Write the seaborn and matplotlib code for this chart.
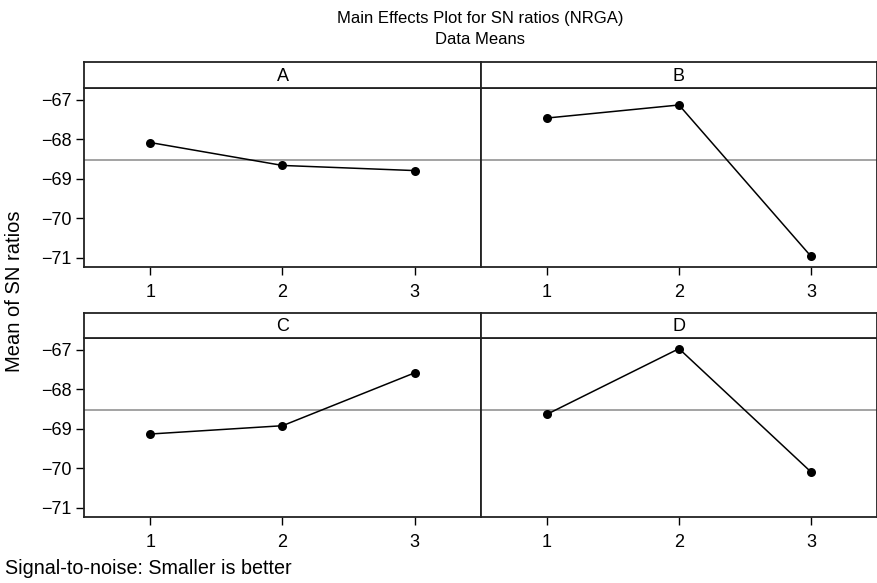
import matplotlib
matplotlib.use("Agg")
import matplotlib.pyplot as plt
import seaborn as sns
import pandas as pd
import numpy as np

sns.set_theme(style="white")
plt.rcParams['font.family'] = ['Liberation Sans', 'DejaVu Sans']
plt.rcParams['text.color'] = 'black'
plt.rcParams['xtick.color'] = 'black'
plt.rcParams['ytick.color'] = 'black'

factors = ["A", "B", "C", "D"]
levels = [1, 2, 3]
sn_A = [-68.08, -68.66, -68.79]
sn_B = [-67.46, -67.13, -70.96]
sn_C = [-69.13, -68.92, -67.58]
sn_D = [-68.63, -66.97, -70.09]
yticks = [-67, -68, -69, -70, -71]

rows = []
for f, vals in zip(factors, [sn_A, sn_B, sn_C, sn_D]):
    for lv, v in zip(levels, vals):
        rows.append({"factor": f, "level": lv, "sn": v})
df = pd.DataFrame(rows)
grand_mean = df["sn"].mean()

W, H = 878, 583
fig = plt.figure(figsize=(W / 100, H / 100), dpi=100)

def fx(px):
    return px / W

def fy(py):
    return 1 - py / H

# panel geometry in pixels: (x0, x1, strip_top, strip_bottom, plot_bottom)
geo = {
    "A": (84, 481, 62, 88, 267),
    "B": (481, 877, 62, 88, 267),
    "C": (84, 481, 313, 338, 517),
    "D": (481, 877, 313, 338, 517),
}
ylim = (-71.23, -66.70)

for f in factors:
    x0, x1, st, sb, pb = geo[f]
    ax = fig.add_axes([fx(x0), fy(pb), fx(x1 - x0), (pb - sb) / H])
    sub = df[df["factor"] == f]
    ax.axhline(grand_mean, color="#8a8a8a", lw=1.1, zorder=1)
    sns.lineplot(data=sub, x="level", y="sn", ax=ax, color="black",
                 marker="o", markersize=6.5, markeredgewidth=0, lw=1.1,
                 zorder=3)
    ax.set_xlim(0.5, 3.5)
    ax.set_ylim(*ylim)
    ax.set_xticks(levels)
    ax.set_xticklabels([str(l) for l in levels])
    ax.set_xlabel("")
    ax.set_ylabel("")
    if f in ("A", "C"):
        ax.set_yticks(yticks)
        ax.set_yticklabels([f"\u2212{abs(t)}" for t in yticks])
    else:
        ax.set_yticks([])
    ax.tick_params(axis="y", which="both", direction="out", length=5.5,
                   width=1, color="black", labelsize=13, pad=3.5,
                   left=(f in ("A", "C")))
    ax.tick_params(axis="x", which="both", direction="out", length=5.5,
                   width=1, color="black", labelsize=13, pad=6.5,
                   bottom=True)
    for s in ax.spines.values():
        s.set_color("#222222")
        s.set_linewidth(1.3)
    # strip
    sax = fig.add_axes([fx(x0), fy(sb), fx(x1 - x0), (sb - st) / H])
    sax.set_xticks([])
    sax.set_yticks([])
    for s in sax.spines.values():
        s.set_color("#222222")
        s.set_linewidth(1.3)
    sax.text(0.5, 0.45, f, ha="center", va="center", fontsize=13,
             transform=sax.transAxes)

fig.text(fx(480), fy(18), "Main Effects Plot for SN ratios (NRGA)",
         ha="center", va="center", fontsize=12)
fig.text(fx(480), fy(39), "Data Means", ha="center", va="center",
         fontsize=12)
fig.text(fx(15), fy(291), "Mean of SN ratios", rotation=90,
         ha="center", va="center", fontsize=14.5)
fig.text(fx(5), fy(569), "Signal-to-noise: Smaller is better",
         ha="left", va="center", fontsize=14.2)

fig.savefig("out.png", dpi=100)
